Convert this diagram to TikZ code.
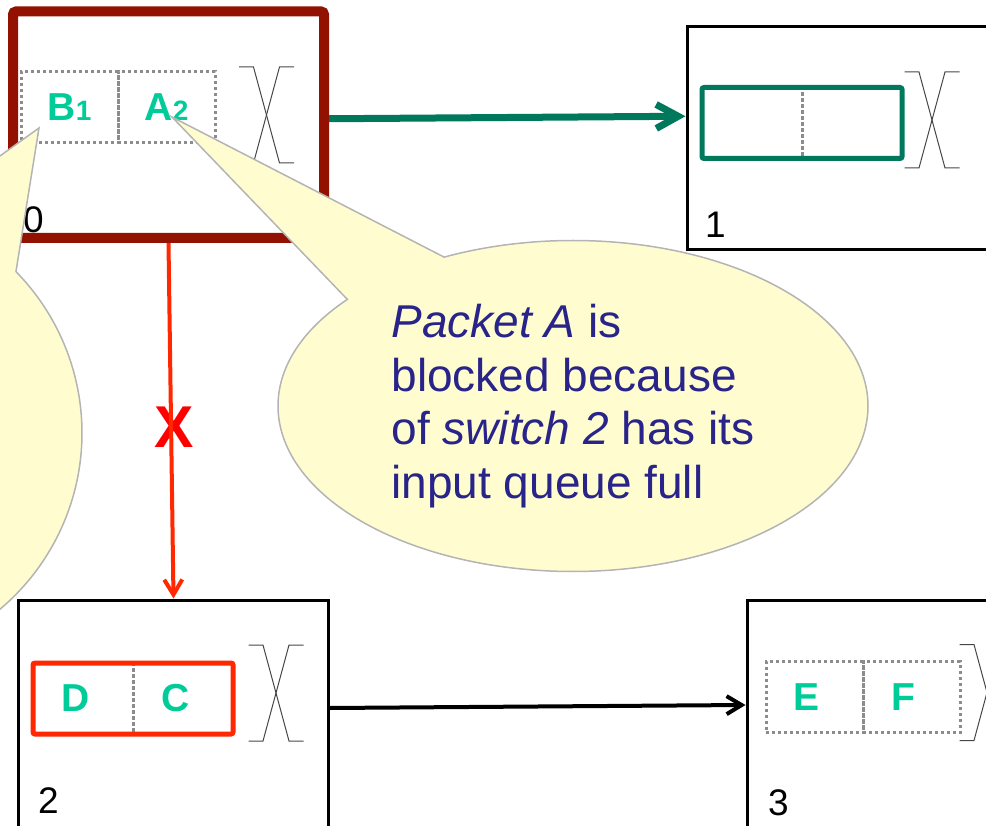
\documentclass[tikz,border=0pt]{standalone}
\usepackage{fontspec}
\setmainfont{Liberation Sans}
\usepackage{tikz}
\usetikzlibrary{arrows.meta,positioning,fit,shapes.callouts}
\definecolor{swred}{RGB}{146,17,0}
\definecolor{linkgreen}{RGB}{0,120,92}
\definecolor{pktgreen}{RGB}{0,204,153}
\definecolor{hotred}{RGB}{255,40,0}
\definecolor{navy}{RGB}{40,36,138}
\definecolor{qgray}{RGB}{140,140,140}
\definecolor{xgray}{RGB}{70,70,70}
\definecolor{notefill}{RGB}{255,253,208}
\definecolor{noteedge}{RGB}{180,180,180}
\newcommand{\pktsub}[1]{{\fontsize{28}{28}\selectfont #1}}
\tikzset{
  switchbox/.style={rectangle, draw=black, line width=3pt, minimum width=311,
    minimum height=232, inner sep=0pt},
  swnum/.style={anchor=base west, inner sep=0pt, font=\fontsize{37}{37}\selectfont},
  qcell/.style={rectangle, draw=qgray, line width=3pt, dash pattern=on 3pt off 3pt,
    minimum width=#1, minimum height=71, inner sep=0pt, outer sep=0pt,
    text=pktgreen, font=\fontsize{39}{39}\selectfont\bfseries},
  qcell/.default=97,
  qframe/.style={draw=#1, line width=5pt, rounded corners=2pt, inner sep=0pt},
  xbarline/.style={xgray, line width=1pt},
  pics/crossbar/.style={code={
    \draw[xbarline] (-27.5,-48) -- (-13,-48) -- (13,48) -- (27.5,48);
    \draw[xbarline] (-27.5,48) -- (-13,48) -- (13,-48) -- (27.5,-48);
  }},
  garrow/.style={-{Straight Barb[length=22pt,width=24pt]}, linkgreen, line width=7pt},
  rarrow/.style={-{Straight Barb[length=15pt,width=18pt]}, hotred, line width=4pt},
  barrow/.style={-{Straight Barb[length=15pt,width=18pt]}, black, line width=4pt},
  bubble/.style={ellipse callout, draw=noteedge, fill=notefill, line width=1.5pt,
    text=navy, align=left, inner sep=0pt, font=\fontsize{46}{53.5}\selectfont}
}
\begin{document}
\begin{tikzpicture}[x=1pt, y=-1pt]
  \useasboundingbox (0,0) rectangle (986,826);
  \clip (0,0) rectangle (986,826);
  % switches
  \node[switchbox, draw=swred, line width=10pt, rounded corners=3pt,
    minimum height=226.5] (sw0) at (168.5,124.75) {};
  \node[switchbox, minimum height=223.5] (sw1) at (842.5,138.25) {};
  \node[switchbox, minimum width=310] (sw2) at (173.5,716) {};
  \node[switchbox] (sw3) at (902.5,716) {};
  \node[swnum] (n0) at (23,233) {0};
  \node[swnum] (n1) at (705,238) {1};
  \node[swnum] (n2) at (38,813) {2};
  \node[swnum] (n3) at (768,815) {3};
  % input queues
  \node[qcell] (q0a) at (69.5,107.5) {B\pktsub{1}\hspace{10pt}};
  \node[qcell, right=0pt of q0a] (q0b) {A\pktsub{2}\hspace{10pt}};
  \node[qcell=100] (q1a) at (752,123) {};
  \node[qcell=100, right=0pt of q1a] (q1b) {};
  \node[qframe=linkgreen, fit=(q1a)(q1b)] (q1) {};
  \node[qcell=100] (q2a) at (83,698.5) {D\pktsub{\phantom{1}}\hspace{10pt}};
  \node[qcell=100, right=0pt of q2a] (q2b) {C\pktsub{\phantom{1}}\hspace{10pt}};
  \node[qframe=hotred, fit=(q2a)(q2b)] (q2) {};
  \node[qcell] (q3a) at (814.5,697) {E\pktsub{\phantom{1}}\hspace{10pt}};
  \node[qcell, right=0pt of q3a] (q3b) {F\pktsub{\phantom{1}}\hspace{10pt}};
  % crossbars
  \pic at (266.5,115) {crossbar};
  \pic at (932,120) {crossbar};
  \pic at (276,693) {crossbar};
  \pic at (987,692.5) {crossbar};
  % links
  \node[text=red, font=\fontsize{59}{59}\selectfont\bfseries] (stopx) at (174,427) {X};
  \draw[garrow] ([yshift=6pt]sw0.east) -- ([yshift=22pt]sw1.west);
  \draw[rarrow] (sw0.south) -- (sw2.north);
  \draw[barrow] ([yshift=8pt]sw2.east) -- ([yshift=11pt]sw3.west);
  % notes
  \coordinate (tipA) at (172,117);
  \coordinate (tipB) at (39,128);
  \node[bubble, minimum width=464, minimum height=462, callout absolute pointer={(tipB)},
    callout pointer arc=28] (noteB) at (-150,433) {};
  \node[bubble, minimum width=590, minimum height=331, callout absolute pointer={(tipA)},
    callout pointer arc=24] (noteA) at (573,406)
    {\textit{Packet A} is\\blocked because\\of \textit{switch 2} has its\\input queue full};
\end{tikzpicture}
\end{document}
